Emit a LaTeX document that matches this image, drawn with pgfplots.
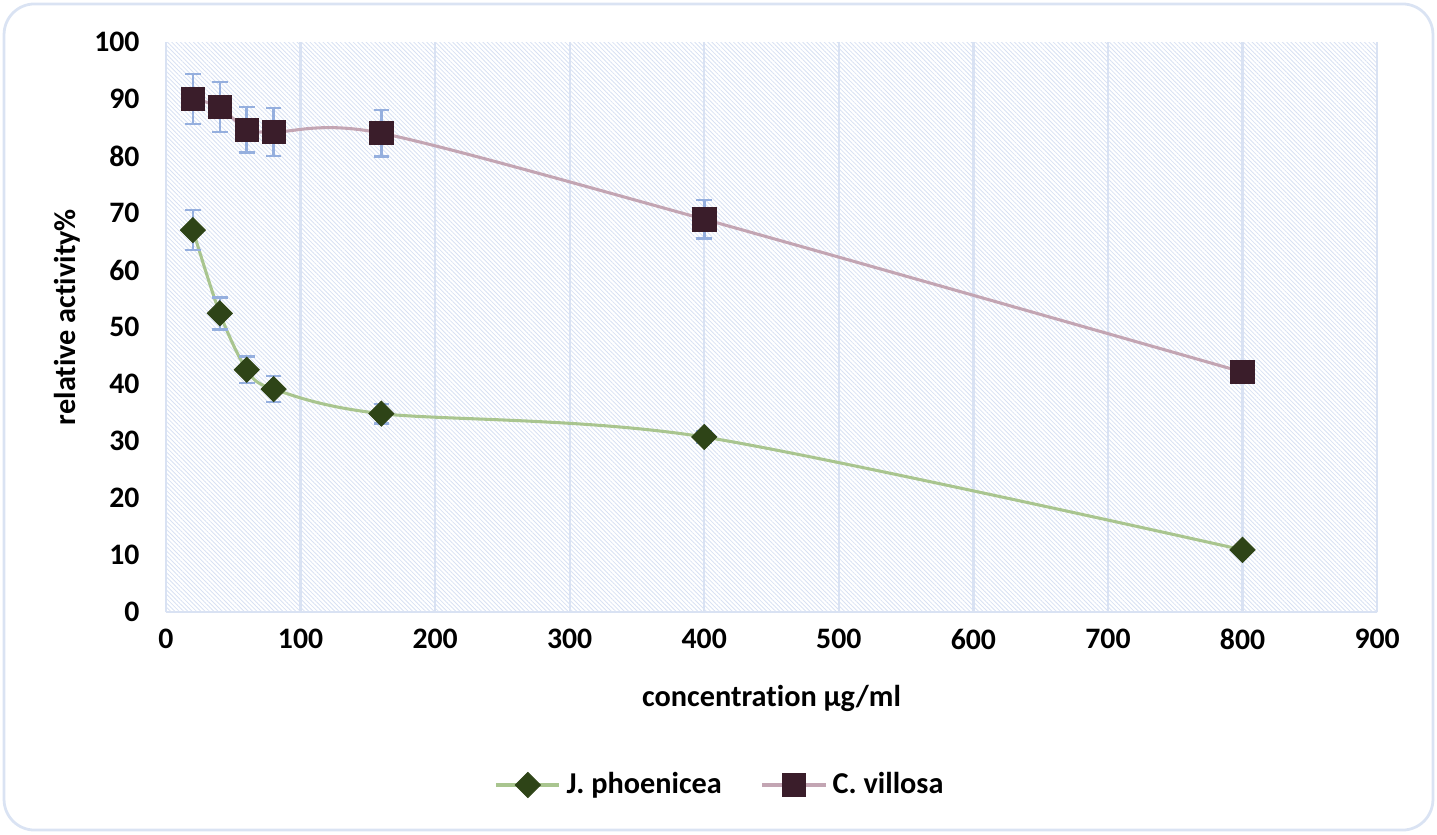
\documentclass[border=0pt]{standalone}
\usepackage{fontspec}
\setmainfont{Carlito}[Ligatures=NoCommon]
\usepackage{pgfplots}
\pgfplotsset{compat=1.18}
\usetikzlibrary{patterns.meta}
\definecolor{gridc}{HTML}{D9E2F3}
\definecolor{hatchc}{HTML}{D8E1F3}
\definecolor{bordc}{HTML}{DAE3F3}
\definecolor{errc}{HTML}{95AFDE}
\definecolor{jmark}{HTML}{2E4417}
\definecolor{jline}{HTML}{A9C58F}
\definecolor{cmark}{HTML}{3A1D2A}
\definecolor{cline}{HTML}{C3A5B3}
\begin{document}
\begin{tikzpicture}
\begin{axis}[name=ax,
  scale only axis, width=436pt, height=205.2pt,
  xmin=0, xmax=900, ymin=0, ymax=100,
  xtick distance=100, ytick distance=10,
  xmajorgrids, major grid style={draw=gridc, line width=0.8pt},
  axis x line*=bottom, axis y line*=left,
  axis line style={draw=gridc, line width=0.8pt, -},
  major tick length=0pt,
  /pgf/number format/assume math mode=true,
  tick label style={font=\fontsize{10.7}{12}\selectfont\bfseries},
  xticklabel style={yshift=-2.6pt},
  yticklabel style={xshift=-6pt},
  axis background/.style={pattern={Lines[angle=-45,distance=1.1pt,line width=0.3pt]}, pattern color=hatchc},
  xlabel={concentration µg/ml},
  ylabel={relative activity\%},
  label style={font=\fontsize{10.9}{12}\selectfont\bfseries},
  xlabel style={at={(axis description cs:0.5,-0.151)}, anchor=center},
  ylabel style={at={(axis description cs:-0.0818,0.5175)}, anchor=center, rotate=0},
  legend style={draw=none, fill=none, at={(0.459,-0.3035)}, anchor=center,
    font=\fontsize{10.9}{12}\selectfont\bfseries,
    /tikz/every even column/.append style={column sep=12pt}},
  legend columns=2,
  legend image code/.code={\draw[mark repeat=2,mark phase=2,#1] plot coordinates {(0cm,0cm)(0.4cm,0cm)(0.8cm,0cm)};},
]
\addplot[color=jline, line width=1.1pt, smooth, tension=0.5,
  mark=square*, mark size=3.2pt, mark options={rotate=45, fill=jmark, draw=jmark, line width=0.3pt, rounded corners=0.6pt},
  error bars/.cd, y dir=both, y explicit,
  error bar style={color=errc, line width=0.9pt},
  error mark options={rotate=90, mark size=2.8pt, line width=0.9pt, color=errc}]
coordinates {
(20,67.0) +- (0,3.5)
(40,52.4) +- (0,2.8)
(60,42.5) +- (0,2.3)
(80,39.1) +- (0,2.3)
(160,34.8) +- (0,1.7)
(400,30.7) +- (0,1.0)
(800,10.9) +- (0,0.5)
};
\addlegendentry{J. phoenicea}
\addplot[color=cline, line width=1.1pt, smooth, tension=0.5,
  mark=square*, mark size=4.2pt, mark options={fill=cmark, draw=cmark, line width=0.3pt, rounded corners=0.8pt},
  error bars/.cd, y dir=both, y explicit,
  error bar style={color=errc, line width=0.9pt},
  error mark options={rotate=90, mark size=2.8pt, line width=0.9pt, color=errc}]
coordinates {
(20,90.0) +- (0,4.4)
(40,88.6) +- (0,4.4)
(60,84.6) +- (0,4.0)
(80,84.2) +- (0,4.2)
(160,84.0) +- (0,4.1)
(400,68.9) +- (0,3.4)
(800,42.1) +- (0,1.0)
};
\addlegendentry{C. villosa}
\end{axis}
\useasboundingbox ([shift={(-59.76pt,-79.92pt)}]ax.south west) rectangle ([shift={(457.56pt,220.32pt)}]ax.south west);
\draw[bordc, line width=1pt, rounded corners=11pt] ([shift={(-58.3pt,-78.5pt)}]ax.south west) rectangle ([shift={(456.1pt,218.9pt)}]ax.south west);
\end{tikzpicture}
\end{document}
